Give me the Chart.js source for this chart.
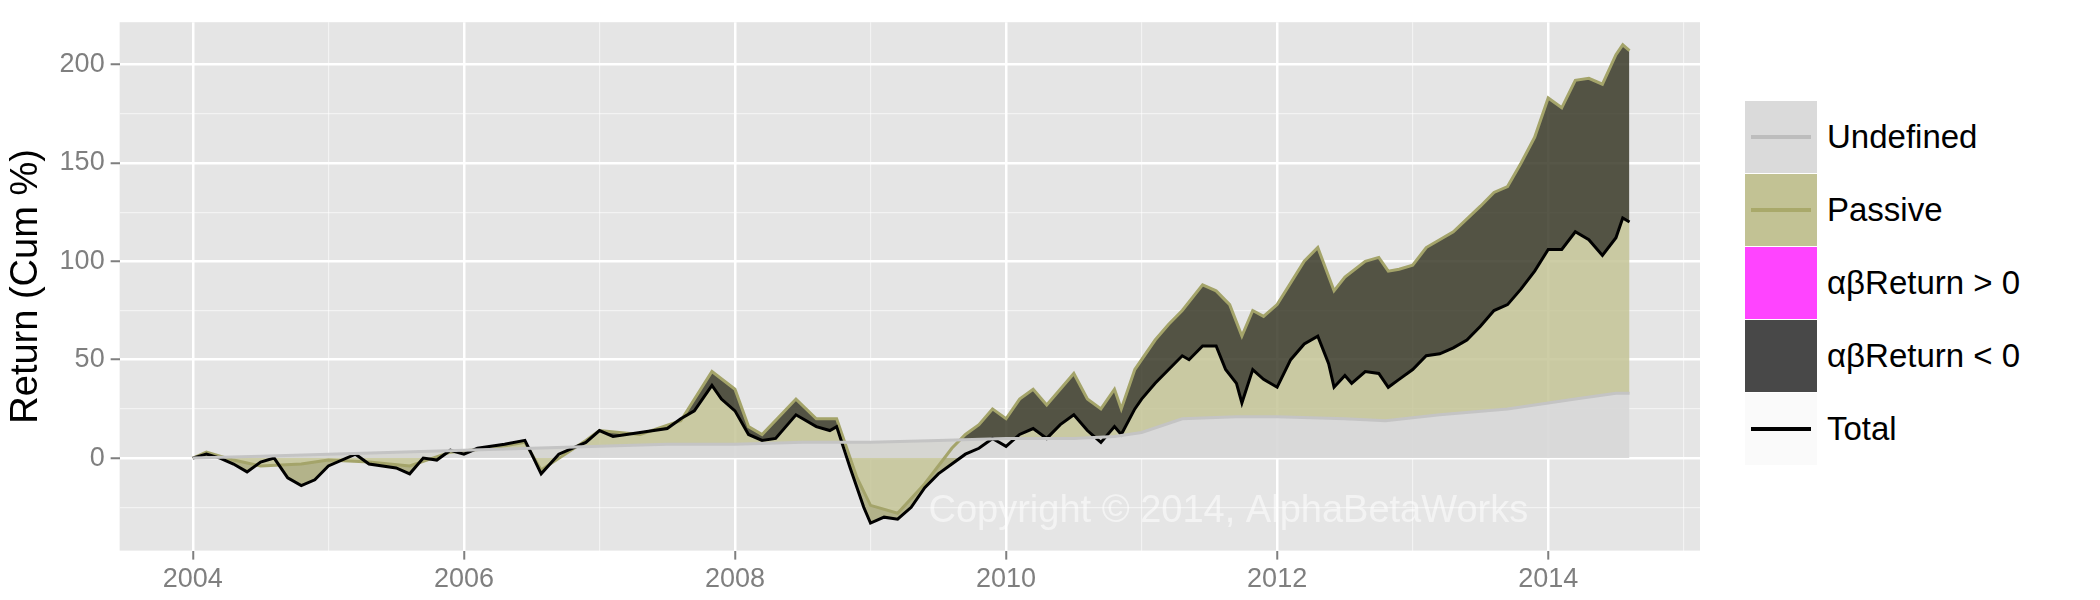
<!DOCTYPE html>
<html><head><meta charset="utf-8">
<script src="https://cdn.jsdelivr.net/npm/chart.js@4/dist/chart.umd.min.js"></script>
<style>
body{margin:0;background:#fff;width:2100px;height:600px;overflow:hidden;font-family:Arial,"Liberation Sans",sans-serif}
#wrap{position:absolute;left:0;top:0;width:1700px;height:600px}
#legend{position:absolute;left:1745px;top:100px}
.row{display:flex;align-items:center;height:73px}
.key{width:72px;height:72px;position:relative;margin-right:10px}
.key span{position:absolute;left:6px;right:6px;top:34px;height:4px}
.lab{font-size:33px;color:#000}
</style></head><body>
<div id="wrap"><canvas id="c" width="1700" height="600"></canvas></div>
<div id="legend">
 <div class="row"><div class="key" style="background:#dadada"><span style="background:#bdbdbd"></span></div><div class="lab">Undefined</div></div>
 <div class="row"><div class="key" style="background:#c2c294"><span style="background:#a9a96a"></span></div><div class="lab">Passive</div></div>
 <div class="row"><div class="key" style="background:#ff44ff"></div><div class="lab">αβReturn &gt; 0</div></div>
 <div class="row"><div class="key" style="background:#484848"></div><div class="lab">αβReturn &lt; 0</div></div>
 <div class="row"><div class="key" style="background:#fafafa"><span style="background:#000"></span></div><div class="lab">Total</div></div>
</div>
<script>
const totalX=[2004.0,2004.1,2004.2,2004.3,2004.4,2004.5,2004.6,2004.7,2004.8,2004.9,2005.0,2005.2,2005.3,2005.5,2005.6,2005.7,2005.8,2005.9,2006.0,2006.1,2006.3,2006.45,2006.5,2006.57,2006.7,2006.9,2007.0,2007.1,2007.3,2007.5,2007.6,2007.7,2007.83,2007.9,2008.0,2008.1,2008.2,2008.3,2008.45,2008.6,2008.7,2008.75,2008.85,2008.95,2009.0,2009.1,2009.2,2009.3,2009.4,2009.5,2009.6,2009.7,2009.8,2009.9,2010.0,2010.1,2010.2,2010.3,2010.4,2010.5,2010.6,2010.7,2010.8,2010.85,2010.95,2011.0,2011.1,2011.2,2011.3,2011.35,2011.45,2011.55,2011.62,2011.7,2011.74,2011.82,2011.9,2012.0,2012.1,2012.2,2012.3,2012.38,2012.42,2012.5,2012.55,2012.65,2012.75,2012.82,2012.9,2013.0,2013.1,2013.2,2013.3,2013.4,2013.5,2013.6,2013.7,2013.8,2013.9,2014.0,2014.1,2014.2,2014.3,2014.4,2014.5,2014.55,2014.6];
const totalY=[0,2,0,-3,-7,-2,0,-10,-14,-11,-4,2,-3,-5,-8,0,-1,4,2,5,7,9,2,-8,2,8,14,11,13,15,20,24,37,30,24,12,9,10,22,16,14,16,-5,-25,-33,-30,-31,-25,-15,-8,-3,2,5,10,6,12,15,10,17,22,14,8,16,12,25,30,38,45,52,50,57,57,45,38,28,45,40,36,50,58,62,48,36,42,38,44,43,36,40,45,52,53,56,60,67,75,78,86,95,106,106,115,111,103,112,122,120];
const passiveX=[2004.0,2004.1,2004.3,2004.5,2004.8,2005.0,2005.3,2005.6,2005.9,2006.2,2006.45,2006.57,2006.9,2007.0,2007.3,2007.6,2007.83,2008.0,2008.1,2008.2,2008.45,2008.6,2008.75,2008.9,2009.0,2009.2,2009.4,2009.6,2009.7,2009.8,2009.9,2010.0,2010.1,2010.2,2010.3,2010.5,2010.6,2010.7,2010.8,2010.85,2010.95,2011.1,2011.2,2011.3,2011.45,2011.55,2011.65,2011.74,2011.82,2011.9,2012.0,2012.2,2012.3,2012.42,2012.5,2012.65,2012.75,2012.82,2012.9,2013.0,2013.1,2013.3,2013.5,2013.6,2013.7,2013.8,2013.9,2014.0,2014.1,2014.2,2014.3,2014.4,2014.5,2014.55,2014.6];
const passiveY=[0,3,-1,-4,-3,-1,-2,-4,3,5,8,-6,9,14,12,19,44,35,16,12,30,20,20,-10,-24,-28,-13,5,12,17,25,20,30,35,27,43,30,25,35,25,45,60,68,75,88,85,78,62,75,72,78,100,107,85,92,100,102,95,96,98,107,115,128,135,138,150,163,183,178,192,193,190,205,210,207];
const undefX=[2004.0,2004.5,2005.0,2005.5,2006.0,2006.5,2007.0,2007.5,2008.0,2008.5,2009.0,2009.5,2010.0,2010.5,2010.8,2011.0,2011.3,2011.7,2012.0,2012.5,2012.8,2013.2,2013.7,2014.0,2014.2,2014.5,2014.6];
const undefY=[0,1,2,3,4,5,6,7,7,8,8,9,10,10,11,13,20,21,21,20,19,22,25,28,30,33,33];
const yTicks=[0,50,100,150,200];
const xTickLabels=[2004,2006,2008,2010,2012,2014];

const pts=(xs,ys)=>xs.map((x,i)=>({x,y:ys[i]}));
const bg={id:'bg',beforeDraw(c){const a=c.chartArea,x=c.ctx;x.save();x.fillStyle='#e5e5e5';x.fillRect(a.left,a.top,a.width,a.height);x.restore();},
afterDatasetsDraw(c){const x=c.ctx;x.save();x.fillStyle='rgba(255,255,255,0.55)';x.font='38px Arial';x.textAlign='center';x.textBaseline='middle';
x.fillText('Copyright © 2014, AlphaBetaWorks',c.scales.x.getPixelForValue(2011.64),c.scales.y.getPixelForValue(-27));x.restore();}};
new Chart(document.getElementById('c'),{type:'line',
data:{datasets:[
{label:'Undefined',data:pts(undefX,undefY),borderColor:'#c4c4c4',borderWidth:3,pointRadius:0,fill:'origin',backgroundColor:'rgba(215,215,215,0.9)'},
{label:'Total',data:pts(totalX,totalY),borderColor:'#000',borderWidth:3,pointRadius:0,fill:{target:0},backgroundColor:'rgba(196,196,150,0.85)'},
{label:'Passive',data:pts(passiveX,passiveY),borderColor:'#a4a46a',borderWidth:3,pointRadius:0,fill:{target:1,above:'rgba(58,58,40,0.85)',below:'rgba(196,196,150,0.85)'}}
]},
options:{responsive:false,animation:false,devicePixelRatio:1,
layout:{padding:{top:7,right:0,bottom:0,left:0}},
plugins:{legend:{display:false},tooltip:{enabled:false},filler:{drawTime:'beforeDatasetsDraw'}},
scales:{
x:{type:'linear',min:2003.46,max:2015.12,
 afterBuildTicks(s){s.ticks=[];for(let y=2004;y<=2015;y++)s.ticks.push({value:y});},
 ticks:{callback:v=>xTickLabels.includes(v)?String(v):'',color:'#7f7f7f',font:{size:27},padding:4,maxRotation:0,autoSkip:false},
 grid:{color:c=>c.tick&&xTickLabels.includes(c.tick.value)?'#ffffff':'rgba(255,255,255,0.55)',lineWidth:c=>c.tick&&xTickLabels.includes(c.tick.value)?2.5:1.2,
  tickLength:9,tickColor:c=>c.tick&&xTickLabels.includes(c.tick.value)?'#7f7f7f':'rgba(0,0,0,0)',tickWidth:2},border:{display:false}},
y:{min:-47,max:221.5,
 afterBuildTicks(s){s.ticks=[];for(let v=-25;v<=200;v+=25)s.ticks.push({value:v});},
 ticks:{callback:v=>yTicks.includes(v)?String(v):'',color:'#7f7f7f',font:{size:27},padding:6,autoSkip:false},
 title:{display:true,text:'Return (Cum %)',font:{size:38},color:'#000',padding:4},
 grid:{color:c=>c.tick&&yTicks.includes(c.tick.value)?'#ffffff':'rgba(255,255,255,0.55)',lineWidth:c=>c.tick&&yTicks.includes(c.tick.value)?2.5:1.2,
  tickLength:9,tickColor:c=>c.tick&&yTicks.includes(c.tick.value)?'#7f7f7f':'rgba(0,0,0,0)',tickWidth:2},border:{display:false}}
}},plugins:[bg]});
</script>
</body></html>
